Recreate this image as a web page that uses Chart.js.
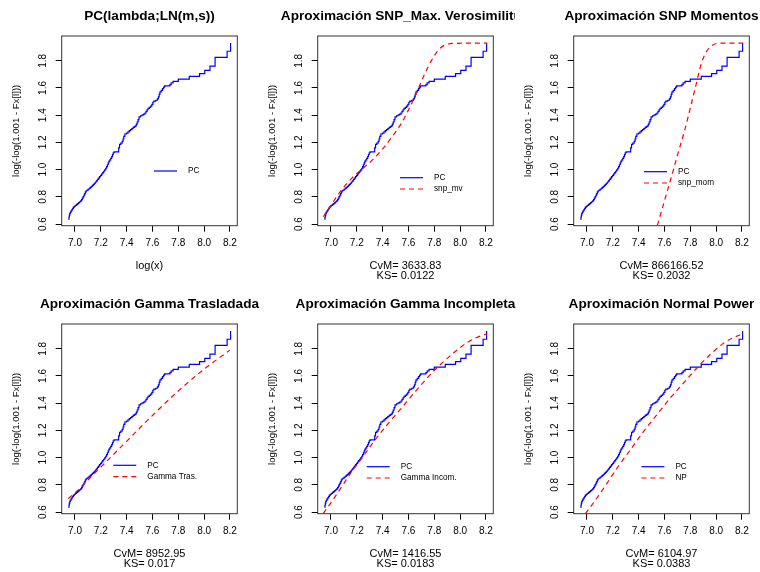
<!DOCTYPE html>
<html><head><meta charset="utf-8">
<script src="https://cdn.jsdelivr.net/npm/chart.js@4.4.1/dist/chart.umd.min.js"></script>
<style>
html,body{margin:0;padding:0;background:#fff;overflow:hidden;width:760px;height:572px;}
.p{position:absolute;height:288px;overflow:hidden;}
canvas{display:block;}
</style></head><body>
<div class="p" style="left:0;top:0;width:262px"><canvas id="c0" width="262" height="288"></canvas></div>
<div class="p" style="left:256px;top:0;width:259px"><canvas id="c1" width="259" height="288"></canvas></div>
<div class="p" style="left:512px;top:0;width:248px"><canvas id="c2" width="248" height="288"></canvas></div>
<div class="p" style="left:0;top:288px;width:262px"><canvas id="c3" width="262" height="288"></canvas></div>
<div class="p" style="left:256px;top:288px;width:262px"><canvas id="c4" width="262" height="288"></canvas></div>
<div class="p" style="left:512px;top:288px;width:248px"><canvas id="c5" width="248" height="288"></canvas></div>
<script>
// ---------- data ----------
const xTicks = [7.0, 7.2, 7.4, 7.6, 7.8, 8.0, 8.2];
const yTicks = [0.6, 0.8, 1.0, 1.2, 1.4, 1.6, 1.8];
const xMin = 6.897, xMax = 8.257;
const yMin = 0.588, yMax = 1.982;

const titles = ["PC(lambda;LN(m,s))", "Aproximación SNP_Max. Verosimilitud", "Aproximación SNP Momentos",
                "Aproximación Gamma Trasladada", "Aproximación Gamma Incompleta", "Aproximación Normal Power"];
const fitLabels = [null, "snp_mv", "snp_mom", "Gamma Tras.", "Gamma Incom.", "NP"];
const cvmText = [null, "CvM= 3633.83", "CvM= 866166.52", "CvM= 8952.95", "CvM= 1416.55", "CvM= 6104.97"];
const ksText = [null, "KS= 0.0122", "KS= 0.2032", "KS= 0.017", "KS= 0.0183", "KS= 0.0383"];
const xTitle = "log(x)";
const yTitle = "log(-log(1.001 - Fx[l]))";

// empirical PC curve (step function)
const pcX = [6.950, 6.953, 6.956, 6.960, 6.964, 6.970, 6.976, 6.982, 6.988, 6.995, 7.003, 7.012, 7.020, 7.028,
  7.036, 7.044, 7.051, 7.057, 7.063, 7.069, 7.075, 7.080, 7.086, 7.094, 7.102, 7.110, 7.118, 7.126, 7.134, 7.142,
  7.150, 7.158, 7.166, 7.174, 7.182, 7.190, 7.198, 7.206, 7.214, 7.222, 7.230, 7.238, 7.245, 7.251, 7.257, 7.263,
  7.270, 7.277, 7.284, 7.290, 7.296, 7.303, 7.338, 7.345, 7.355, 7.365, 7.372, 7.378, 7.386, 7.398, 7.410, 7.420,
  7.430, 7.440, 7.450, 7.460, 7.468, 7.475, 7.482, 7.489, 7.496, 7.508, 7.520, 7.532, 7.542, 7.550, 7.558, 7.566,
  7.576, 7.586, 7.595, 7.603, 7.610, 7.625, 7.638, 7.646, 7.652, 7.658, 7.668, 7.678, 7.686, 7.694, 7.735, 7.745,
  7.760, 7.800, 7.885, 7.965, 8.005, 8.045, 8.085, 8.178, 8.205];
const pcY = [0.635, 0.650, 0.665, 0.678, 0.688, 0.697, 0.706, 0.716, 0.724, 0.731, 0.737, 0.744, 0.750, 0.757,
  0.764, 0.771, 0.779, 0.790, 0.801, 0.812, 0.824, 0.836, 0.845, 0.850, 0.856, 0.862, 0.869, 0.876, 0.884, 0.892,
  0.900, 0.909, 0.918, 0.928, 0.938, 0.948, 0.958, 0.968, 0.978, 0.988, 0.998, 1.010, 1.022, 1.036, 1.050, 1.062,
  1.072, 1.083, 1.096, 1.110, 1.124, 1.130, 1.160, 1.185, 1.195, 1.208, 1.225, 1.245, 1.262, 1.268, 1.278, 1.286,
  1.294, 1.302, 1.310, 1.316, 1.322, 1.335, 1.350, 1.367, 1.388, 1.396, 1.402, 1.408, 1.416, 1.428, 1.440, 1.450,
  1.458, 1.466, 1.480, 1.495, 1.503, 1.510, 1.520, 1.535, 1.555, 1.572, 1.582, 1.596, 1.607, 1.615, 1.625, 1.638,
  1.648, 1.665, 1.685, 1.705, 1.730, 1.760, 1.825, 1.870, 1.930];

const snpMvX = [6.940, 6.992, 7.077, 7.160, 7.238, 7.315, 7.393, 7.470, 7.548, 7.612, 7.677, 7.728, 7.780, 7.832, 7.883, 7.960, 8.210];
const snpMvY = [0.654, 0.728, 0.845, 0.936, 1.002, 1.066, 1.144, 1.237, 1.345, 1.462, 1.597, 1.708, 1.805, 1.879, 1.916, 1.928, 1.930];

const snpMomX = [7.545, 7.602, 7.654, 7.705, 7.757, 7.809, 7.847, 7.886, 7.925, 7.976, 8.030, 8.210];
const snpMomY = [0.590, 0.777, 0.948, 1.120, 1.291, 1.487, 1.634, 1.781, 1.867, 1.916, 1.930, 1.930];

const gamTrasX = [6.948, 7.000, 7.100, 7.200, 7.400, 7.600, 7.800, 8.000, 8.200];
const gamTrasY = [0.700, 0.740, 0.835, 0.930, 1.120, 1.310, 1.490, 1.650, 1.790];

const gamIncX = [6.940, 7.005, 7.083, 7.160, 7.238, 7.341, 7.444, 7.548, 7.651, 7.754, 7.857, 7.960, 8.064, 8.193, 8.210];
const gamIncY = [0.590, 0.676, 0.786, 0.897, 0.995, 1.130, 1.252, 1.367, 1.484, 1.595, 1.693, 1.778, 1.852, 1.906, 1.910];

const npX = [6.987, 7.060, 7.137, 7.240, 7.344, 7.447, 7.550, 7.654, 7.757, 7.860, 7.964, 8.067, 8.196, 8.210];
const npY = [0.588, 0.681, 0.786, 0.933, 1.068, 1.203, 1.326, 1.448, 1.558, 1.668, 1.766, 1.847, 1.906, 1.910];

const fitX = [null, snpMvX, snpMomX, gamTrasX, gamIncX, npX];
const fitY = [null, snpMvY, snpMomY, gamTrasY, gamIncY, npY];

// ---------- layout / style ----------
const FONT = '"Liberation Sans", Arial, Helvetica, sans-serif';
const H = 288;
const AREA = {left: 61.7, right: 237.3, top: 36, bottom: 225.7};
const legendPos = [{dx: 92.3, dy: 135}, {dx: 82.3, dy: 141.7}, {dx: 70.3, dy: 135.7},
                   {dx: 51.6, dy: 141.3}, {dx: 49, dy: 142.7}, {dx: 67.7, dy: 142.7}];

const toPts = (xs, ys) => xs.map((x, i) => ({x: x, y: ys[i]}));

const decor = {
  id: 'decor',
  afterDraw(chart) {
    const {ctx, chartArea: ca} = chart;
    const o = chart.options.plugins.decor;
    ctx.save();
    ctx.strokeStyle = '#333';
    ctx.lineWidth = 1;
    ctx.strokeRect(ca.left, ca.top, ca.right - ca.left, ca.bottom - ca.top);
    ctx.fillStyle = '#000';
    ctx.font = 'bold 13.6px ' + FONT;
    ctx.textAlign = 'center';
    ctx.textBaseline = 'alphabetic';
    ctx.fillText(o.title, (ca.left + ca.right) / 2, 20);
    ctx.font = '8.2px ' + FONT;
    ctx.textAlign = 'left';
    ctx.textBaseline = 'middle';
    chart.data.datasets.forEach((ds, i) => {
      const x0 = ca.left + o.legend.dx;
      const y = ca.top + o.legend.dy + i * 11.3;
      ctx.strokeStyle = ds.borderColor;
      ctx.lineWidth = ds.borderWidth;
      ctx.setLineDash(ds.borderDash || []);
      ctx.beginPath();
      ctx.moveTo(x0, y);
      ctx.lineTo(x0 + 23, y);
      ctx.stroke();
      ctx.setLineDash([]);
      ctx.fillStyle = '#000';
      ctx.fillText(ds.label, x0 + 34, y);
    });
    ctx.restore();
  }
};

for (let k = 0; k < 6; k++) {
  const canvas = document.getElementById('c' + k);
  const datasets = [{
    label: 'PC', data: toPts(pcX, pcY), borderColor: '#0000ff', borderWidth: 1.2,
    stepped: true, pointRadius: 0, fill: false, order: 1
  }];
  if (fitX[k]) {
    datasets.push({
      label: fitLabels[k], data: toPts(fitX[k], fitY[k]), borderColor: '#ff0000', borderWidth: 1.2,
      borderDash: [5, 4], cubicInterpolationMode: 'monotone', pointRadius: 0, fill: false, order: 0
    });
  }
  const xt = fitX[k] ? [cvmText[k], ksText[k]] : xTitle;
  new Chart(canvas, {
    type: 'line',
    data: {datasets: datasets},
    plugins: [decor],
    options: {
      responsive: false, animation: false, devicePixelRatio: 1,
      layout: {padding: {left: 0, top: AREA.top, right: canvas.width - AREA.right, bottom: 0}},
      plugins: {
        legend: {display: false}, tooltip: {enabled: false}, title: {display: false},
        decor: {title: titles[k], legend: legendPos[k]}
      },
      scales: {
        x: {
          type: 'linear', min: xMin, max: xMax,
          afterBuildTicks: s => { s.ticks = xTicks.map(v => ({value: v})); },
          afterFit: s => { s.height = H - AREA.bottom; },
          ticks: {callback: v => v.toFixed(1), font: {family: FONT, size: 10}, color: '#000', padding: 6,
                  maxRotation: 0, minRotation: 0, autoSkip: false},
          grid: {drawOnChartArea: false, drawTicks: true, tickLength: 6, color: '#000', lineWidth: 1},
          border: {display: false},
          title: {display: true, text: xt, color: '#000',
                  font: {family: FONT, size: 11, lineHeight: '10px'},
                  padding: {top: 0, bottom: fitX[k] ? 7.5 : 17}}
        },
        y: {
          type: 'linear', min: yMin, max: yMax,
          afterBuildTicks: s => { s.ticks = yTicks.map(v => ({value: v})); },
          afterFit: s => { s.width = AREA.left; },
          ticks: {callback: v => v.toFixed(1), font: {family: FONT, size: 10}, color: '#000', padding: 5,
                  minRotation: 90, maxRotation: 90, crossAlign: 'center', autoSkip: false},
          grid: {drawOnChartArea: false, drawTicks: true, tickLength: 6, color: '#000', lineWidth: 1},
          border: {display: false},
          title: {display: true, text: yTitle, color: '#000',
                  font: {family: FONT, size: 9.6, lineHeight: '11px'},
                  padding: {top: 11.2, bottom: 0}}
        }
      }
    }
  });
}
</script>
</body></html>
